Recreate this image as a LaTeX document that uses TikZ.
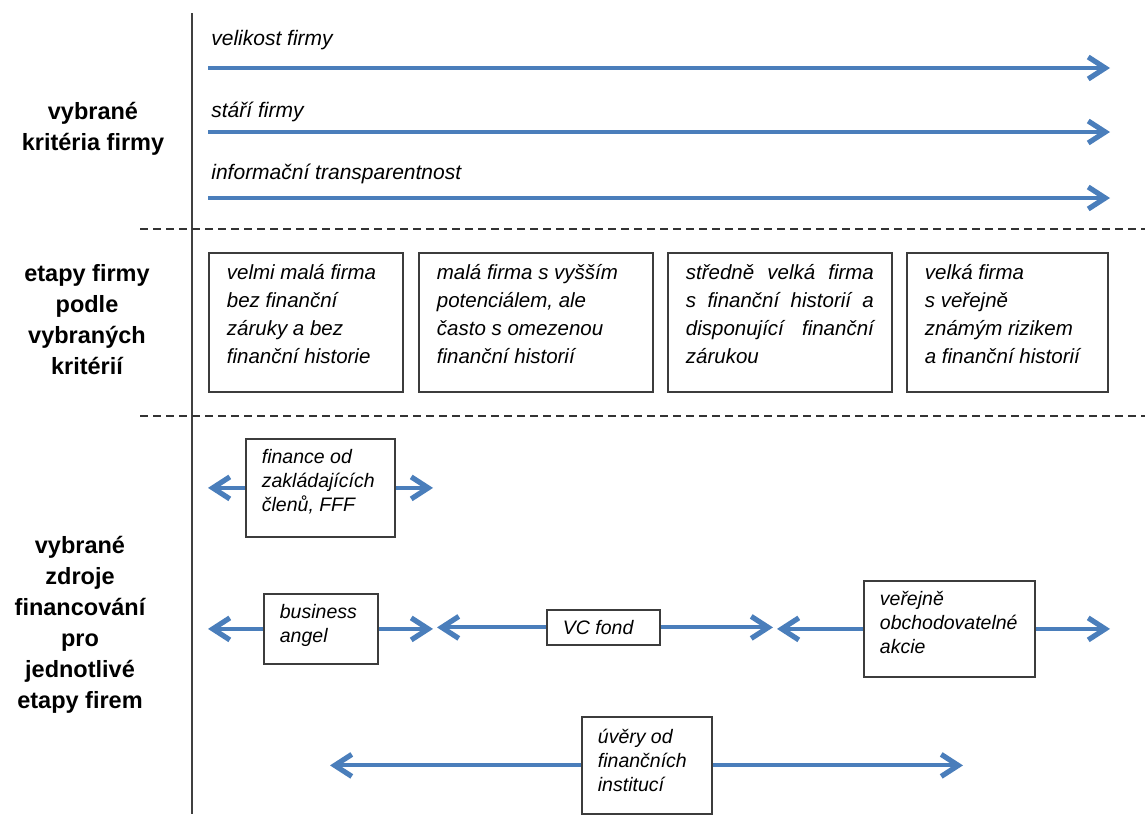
\documentclass[tikz,border=0pt]{standalone}
\usepackage{fontspec}
\setmainfont{Liberation Sans}
\usetikzlibrary{arrows.meta,positioning}
\definecolor{arrowblue}{HTML}{4A7EBB}
\definecolor{boxgray}{HTML}{3C3C3C}
\newcommand{\boxtext}[4]{\parbox[t][#2][t]{#1}{\rule{0pt}{#3}#4}}
\tikzset{stagebox/.style={draw=boxgray, line width=0.9pt, inner xsep=9pt,
  inner ysep=0pt, anchor=north west, font=\fontsize{10.25}{14}\selectfont\itshape},
  sourcebox/.style={draw=boxgray, line width=0.9pt, inner xsep=8pt,
  inner ysep=0pt, anchor=north west, font=\fontsize{9.75}{12}\selectfont\itshape},
  bluearrow/.style={-{Straight Barb[length=8.5pt,width=11pt,line width=2.6pt]}, line width=2pt, arrowblue},
  sidelabel/.style={align=center, font=\fontsize{11.75}{15.5}\selectfont\bfseries},
  critlabel/.style={anchor=base west, inner sep=0pt, font=\fontsize{10.5}{13}\selectfont\itshape},
  divider/.style={dash pattern=on 4pt off 2.5pt, line width=0.75pt, black!80}}

\begin{document}
\begin{tikzpicture}[x=0.5pt, y=-0.5pt]
    \useasboundingbox (0,0) rectangle (1145,814);
    % dividers
    \draw[line width=0.8pt, black!75] (192,13) -- (192,814);
    \draw[divider] (140,229) -- (1145,229);
    \draw[divider] (140,416) -- (1145,416);

    % row labels
    \node[sidelabel] (critlab) at (93,129) {vybrané\\kritéria firmy};
    \node[sidelabel] (stagelab) at (87,320) {etapy firmy\\podle\\vybraných\\kritérií};
    \node[sidelabel] (sourcelab) at (80,625) {vybrané\\zdroje\\financování\\pro\\jednotlivé\\etapy firem};

    % criteria
    \foreach \name/\ly/\ay/\txt in {size/45/68/{velikost firmy}, age/117/132/{stáří firmy},
        info/179/198/{informační transparentnost}} {
      \coordinate (\name-s) at (208,\ay);
      \coordinate (\name-e) at (1110,\ay);
      \draw[bluearrow] (\name-s) -- (\name-e);
      \node[critlabel] (\name-lab) at (211,\ly) {\txt};
    }

    % stages
    \node[stagebox] (verysmall) at (208,252) {\boxtext{79pt}{69.5pt}{13.5pt}{\raggedright
      velmi malá firma\\bez finanční\\záruky a bez\\finanční historie}};
    \node[stagebox] (small) at (418,252) {\boxtext{99pt}{69.5pt}{13.5pt}{\raggedright
      malá firma s vyšším\\potenciálem, ale\\často s omezenou\\finanční historií}};
    \node[stagebox] (medium) at (667,252) {\boxtext{94pt}{69.5pt}{13.5pt}{%
      středně velká firma\linebreak s finanční historií a\linebreak disponující finanční\linebreak zárukou}};
    \node[stagebox] (large) at (906,252) {\boxtext{82.5pt}{69.5pt}{13.5pt}{\raggedright
      velká firma\\s veřejně\\známým rizikem\\a finanční historií}};

    % sources
    \node[sourcebox] (fff) at (245,438) {\boxtext{58.5pt}{49pt}{12.5pt}{\raggedright
      finance od\\zakládajících\\členů, FFF}};
    \node[sourcebox] (angel) at (263,593) {\boxtext{41pt}{35pt}{12.5pt}{\raggedright
      business\\angel}};
    \node[sourcebox] (vc) at (546,609) {\boxtext{40.5pt}{17.5pt}{12.5pt}{\raggedright VC fond}};
    \node[sourcebox] (public) at (863,580) {\boxtext{69.5pt}{48pt}{12.5pt}{\raggedright
      veřejně\\obchodovatelné\\akcie}};
    \node[sourcebox] (loans) at (581,716) {\boxtext{49pt}{48.5pt}{13.5pt}{\raggedright
      úvěry od\\finančních\\institucí}};

    \coordinate (fff-l) at (208,0);
    \coordinate (fff-r) at (433,0);
    \coordinate (angel-l) at (208,0);
    \coordinate (angel-r) at (433,0);
    \coordinate (vc-l) at (437,0);
    \coordinate (vc-r) at (773,0);
    \coordinate (public-l) at (777,0);
    \coordinate (public-r) at (1110,0);
    \coordinate (loans-l) at (330,0);
    \coordinate (loans-r) at (963,0);
    \foreach \src in {fff,angel,vc,public,loans} {
      \draw[bluearrow] (\src.west) -- (\src.west -| \src-l);
      \draw[bluearrow] (\src.east) -- (\src.east -| \src-r);
    }
  \end{tikzpicture}
\end{document}
